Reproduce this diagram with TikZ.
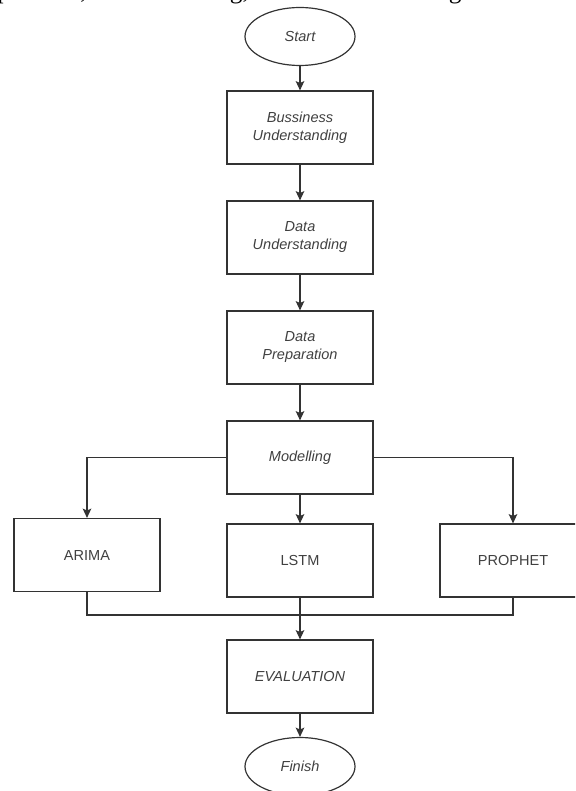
\documentclass[tikz,border=0pt]{standalone}
\usepackage{fontspec}
\setmainfont{Liberation Sans}
\newfontfamily\pagefont{Liberation Serif}
\usetikzlibrary{shapes.geometric,arrows.meta}

\tikzset{
  boxfont/.style={font=\fontsize{10.9pt}{13.5pt}\selectfont\itshape, text=black!75},
  stepbox/.style={draw=black!80, line width=0.9pt, minimum width=109.5pt, minimum height=54.75pt, align=center, boxfont},
  modelbox/.style={stepbox, font=\fontsize{10.9pt}{13.5pt}\selectfont\upshape},
  terminal/.style={ellipse, draw=black!80, line width=0.9pt, minimum width=82.5pt, minimum height=43.5pt, inner sep=0pt, boxfont},
  flow/.style={draw=black!80, line width=0.9pt, -{Stealth[length=7pt,width=6.5pt,inset=1.5pt]}},
  joinline/.style={draw=black!80, line width=0.9pt},
}

\begin{document}
\begin{tikzpicture}[x=0.75pt, y=-0.75pt]

\useasboundingbox (0,0) rectangle (575,791);
\clip (0,0) rectangle (575,791);

% Cut-off line of the page text above the figure
\node[anchor=base west, inner sep=0pt, font=\pagefont\fontsize{19pt}{22pt}\selectfont] (pageline) at (-3,-1)
  {\makebox[436pt][s]{paration, and modelling, and evaluation. Figure 2 is the}};

% Main steps
\node[terminal] (start) at (300,36.5) {Start};
\node[stepbox] (business) at (300,127.5) {Bussiness\\Understanding};
\node[stepbox] (dataund) at (300,237.5) {Data\\Understanding};
\node[stepbox] (dataprep) at (300,347.5) {Data\\Preparation};
\node[stepbox] (modelling) at (300,457.5) {Modelling};

% Models
\node[modelbox] (arima) at (87,555) {ARIMA};
\node[modelbox] (lstm) at (300,560.5) {LSTM};
\node[modelbox] (prophet) at (513,560.5) {PROPHET};

% End
\node[stepbox] (evaluation) at (300,676.5) {EVALUATION};
\node[terminal] (finish) at (300,766.5) {Finish};

\coordinate (join) at (300,615);

% Connectors
\draw[flow] (start) -- (business);
\draw[flow] (business) -- (dataund);
\draw[flow] (dataund) -- (dataprep);
\draw[flow] (dataprep) -- (modelling);
\draw[flow] (modelling.west) -| (arima.north);
\draw[flow] (modelling) -- (lstm);
\draw[flow] (modelling.east) -| (prophet.north);
\draw[joinline] (arima.south) |- (join) -| (prophet.south);
\draw[flow] (lstm) -- (evaluation);
\draw[flow] (evaluation) -- (finish);

\end{tikzpicture}
\end{document}
